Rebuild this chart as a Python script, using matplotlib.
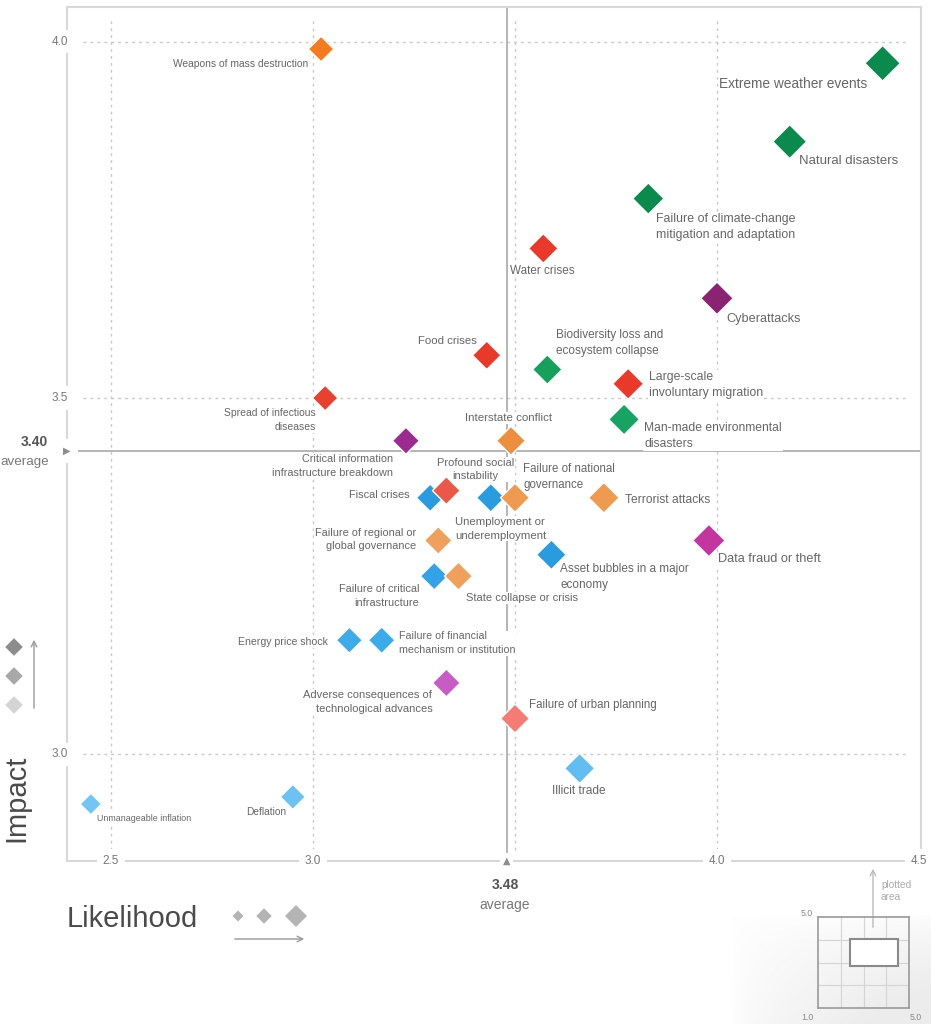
import matplotlib.pyplot as plt
import matplotlib.patches as mpatches
import numpy as np
from matplotlib.colors import LinearSegmentedColormap

plt.rcParams['font.family'] = ['Liberation Sans', 'DejaVu Sans']

# --- data ---
risks = [
    "Weapons of mass destruction",
    "Extreme weather events",
    "Natural disasters",
    "Failure of climate-change\nmitigation and adaptation",
    "Water crises",
    "Cyberattacks",
    "Food crises",
    "Biodiversity loss and\necosystem collapse",
    "Large-scale\ninvoluntary migration",
    "Spread of infectious\ndiseases",
    "Man-made environmental\ndisasters",
    "Interstate conflict",
    "Critical information\ninfrastructure breakdown",
    "Fiscal crises",
    "Profound social\ninstability",
    "Unemployment or\nunderemployment",
    "Failure of national\ngovernance",
    "Terrorist attacks",
    "Data fraud or theft",
    "Failure of regional or\nglobal governance",
    "Asset bubbles in a major\neconomy",
    "Failure of critical\ninfrastructure",
    "State collapse or crisis",
    "Energy price shock",
    "Failure of financial\nmechanism or institution",
    "Adverse consequences of\ntechnological advances",
    "Failure of urban planning",
    "Illicit trade",
    "Deflation",
    "Unmanageable inflation",
]
likelihood = [3.02, 4.41, 4.18, 3.83, 3.57, 4.00, 3.43, 3.58, 3.78, 3.03,
              3.77, 3.49, 3.23, 3.29, 3.33, 3.44, 3.50, 3.72, 3.98, 3.31,
              3.59, 3.30, 3.36, 3.09, 3.17, 3.33, 3.50, 3.66, 2.95, 2.45]
impact = [3.99, 3.97, 3.86, 3.78, 3.71, 3.64, 3.56, 3.54, 3.52, 3.50,
          3.47, 3.44, 3.44, 3.36, 3.37, 3.36, 3.36, 3.36, 3.30, 3.30,
          3.28, 3.25, 3.25, 3.16, 3.16, 3.10, 3.05, 2.98, 2.94, 2.93]
colors = ['#F47B20', '#0B8A4D', '#0B8A4D', '#0B8A4D', '#E8392B', '#8B2373',
          '#E8392B', '#16A05C', '#E8392B', '#E8412F', '#17A462', '#EC8F3F',
          '#9B2B90', '#2B9BE0', '#EA5849', '#2B9BE0', '#EE9A50', '#EE9A50',
          '#C4369F', '#EFA05C', '#2B9BE0', '#33A2E6', '#EFA05C', '#3DAAEA',
          '#3DAAEA', '#C95BC4', '#F47C74', '#62BDF2', '#6CC2F3', '#73C5F3']

avg_likelihood = 3.48
avg_impact = 3.40
avg_impact_drawn = 3.426   # the source draws its 3.40 line here

x_ticks = [2.5, 3.0, 4.0, 4.5]
y_ticks = [3.0, 3.5, 4.0]
x_grid = [2.5, 3.0, 3.5, 4.0]
y_grid = [3.0, 3.5, 4.0]
x_range = (2.391, 4.505)
y_range = (2.85, 4.049)

# label placement (pixels from the diamond: right, down) and alignment
label_pos = [
    (-13, 15, 'right'), (-15, 21, 'right'), (9, 19, 'left'), (8, 28, 'left'),
    (-1, 23, 'center'), (9, 21, 'left'), (-10, -14, 'right'), (9, -27, 'left'),
    (21, 1, 'left'), (-9, 22, 'right'), (20, 17, 'left'), (-2, -23, 'center'),
    (-13, 25, 'right'), (-21, -3, 'right'), (29, -21, 'center'), (-36, 31, 'left'),
    (8, -21, 'left'), (21, 2, 'left'), (9, 19, 'left'), (-22, -1, 'right'),
    (9, 22, 'left'), (-15, 20, 'right'), (8, 22, 'left'), (-22, 2, 'right'),
    (17, 3, 'left'), (-14, 19, 'right'), (14, -14, 'left'), (-1, 23, 'center'),
    (-7, 15, 'right'), (6, 14, 'left'),
]

W, H = 931, 1024
fig = plt.figure(figsize=(W / 100, H / 100), dpi=100)
ax = fig.add_axes([67 / W, 1 - 861 / H, (921 - 67) / W, (861 - 7) / H])
ax.set_facecolor('none')
ax.set_xlim(*x_range)
ax.set_ylim(*y_range)
ax.set_xticks([])
ax.set_yticks([])
for s in ax.spines.values():
    s.set_color('#d8d8d8')
    s.set_linewidth(1.5)

# dotted grid
for g in x_grid:
    ax.axvline(g, ymin=0.013, ymax=0.988, color='#c8c8c8', lw=1,
               linestyle=(0, (2, 3)), zorder=1)
for g in y_grid:
    ax.axhline(g, xmin=0.019, xmax=0.984, color='#c8c8c8', lw=1,
               linestyle=(0, (2, 3)), zorder=1)

# averages
ax.axvline(avg_likelihood, color='#b0b0b0', lw=1.3, zorder=1.5)
ax.axhline(avg_impact_drawn, color='#b0b0b0', lw=1.3, zorder=1.5)

box = dict(fc='white', ec='none', pad=2)
for t in x_ticks:
    ax.annotate('%.1f' % t, (t, 0), xycoords=('data', 'axes fraction'),
                ha='center', va='center', fontsize=8.5, color='#777',
                bbox=dict(fc='white', ec='none', pad=4), zorder=5)
for t in y_ticks:
    ax.annotate('%.1f' % t, (0, t), xycoords=('axes fraction', 'data'),
                xytext=(-7, 0), textcoords='offset pixels',
                ha='center', va='center', fontsize=8.5, color='#777',
                bbox=dict(fc='white', ec='none', pad=4), zorder=5)
ax.annotate('\u25B2', (avg_likelihood, 0), xycoords=('data', 'axes fraction'),
            ha='center', va='center', fontsize=7, color='#8c8c8c',
            family='DejaVu Sans', bbox=box, zorder=5)
ax.annotate('\u25B6', (0, avg_impact_drawn), xycoords=('axes fraction', 'data'),
            ha='center', va='center', fontsize=7, color='#8c8c8c',
            family='DejaVu Sans', bbox=dict(fc='white', ec='none', pad=5), zorder=5)

# risk diamonds, bigger for more likely risks
lo, hi = min(likelihood), max(likelihood)
diag = [21.5 + (v - lo) / (hi - lo) * 14 for v in likelihood]
sizes = [(d / 1.964) ** 2 for d in diag]
ax.scatter(likelihood, impact, s=sizes, marker='D', c=colors,
           edgecolors='white', linewidths=1, zorder=4)

for name, x, y, (dx, dy, ha) in zip(risks, likelihood, impact, label_pos):
    fs = 6.4 + 1.8 * (x - lo)
    ax.annotate(name, (x, y), xytext=(dx, -dy), textcoords='offset pixels',
                ha=ha, va='center', fontsize=fs, color='#666',
                linespacing=1.45, bbox=dict(fc='white', ec='none', pad=0.6),
                zorder=3)

# overlay in pixel coordinates for the decorations around the chart
over = fig.add_axes([0, 0, 1, 1])
over.patch.set_visible(False)
over.axis('off')

gx = np.linspace(0, 1, 200)
gy = np.linspace(0, 1, 110)
Z = np.clip(np.outer(gy, gx) * 1.4, 0, 1) ** 0.6
cmap = LinearSegmentedColormap.from_list('fade', ['#ffffff', '#ececec'])
over.imshow(Z, extent=(731, 931, 1024, 914), cmap=cmap, aspect='auto',
            vmin=0, vmax=1, zorder=0)
over.set_xlim(0, W)
over.set_ylim(H, 0)

over.text(505, 885, '%.2f' % avg_likelihood, ha='center', va='center',
          fontsize=10, fontweight='bold', color='#555')
over.text(505, 905, 'average', ha='center', va='center', fontsize=10, color='#777')
over.text(48, 442, '%.2f' % avg_impact, ha='right', va='center',
          fontsize=10, fontweight='bold', color='#555')
over.text(49, 462, 'average', ha='right', va='center', fontsize=9.6, color='#777')

over.text(2, 842, 'Impact', rotation=90, ha='left', va='bottom',
          fontsize=21, color='#4a4a4a')
over.text(67, 927, 'Likelihood', ha='left', va='baseline',
          fontsize=21, color='#4a4a4a')

over.scatter([14, 14, 14], [647, 676, 705], marker='D', s=80,
             c=['#8c8c8c', '#a8a8a8', '#d4d4d4'], linewidths=0)
over.annotate('', xy=(34, 637), xytext=(34, 711),
              arrowprops=dict(arrowstyle='->', color='#999', lw=1))
over.scatter([238, 264, 296], [916, 916, 916], marker='D',
             s=[(11 / 1.964) ** 2, (15.5 / 1.964) ** 2, (22 / 1.964) ** 2],
             c='#b4b4b4', linewidths=0)
over.annotate('', xy=(307, 939), xytext=(232, 939),
              arrowprops=dict(arrowstyle='->', color='#999', lw=1))

# small inset showing where the plot sits on the 1-5 scale
over.text(807, 913, '5.0', ha='center', va='center', fontsize=6.3, color='#888')
over.text(807, 1017, '1.0', ha='center', va='center', fontsize=6.3, color='#888')
over.text(916, 1017, '5.0', ha='center', va='center', fontsize=6.3, color='#888')
over.text(881, 891, 'plotted\narea', ha='left', va='center', fontsize=7.3,
          color='#aaa', linespacing=1.3)
over.annotate('', xy=(873, 866), xytext=(873, 930),
              arrowprops=dict(arrowstyle='->', color='#bbb', lw=1), zorder=6)

ins = fig.add_axes([818 / W, 1 - 1008 / H, 91 / W, 91 / H])
ins.set_facecolor('none')
ins.set_xlim(1, 5)
ins.set_ylim(1, 5)
ins.set_xticks([])
ins.set_yticks([])
for s in ins.spines.values():
    s.set_color('#9a9a9a')
    s.set_linewidth(1.2)
for g in [2, 3, 4]:
    ins.axvline(g, color='#d4d4d4', lw=0.8)
    ins.axhline(g, color='#d4d4d4', lw=0.8)
ins.add_patch(mpatches.Rectangle((x_range[0], y_range[0]),
                                 x_range[1] - x_range[0], y_range[1] - y_range[0],
                                 fc='white', ec='#8a8a8a', lw=1.5, zorder=3))

fig.savefig('out.png', dpi=100, facecolor='white')
